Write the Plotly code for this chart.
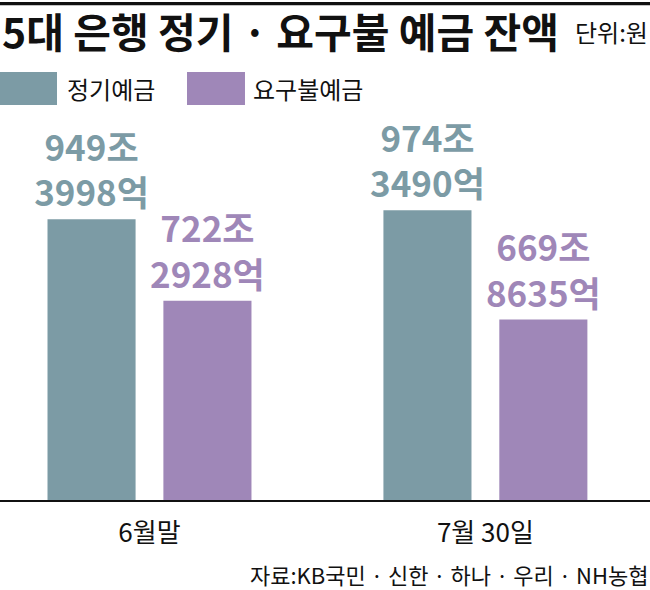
import plotly.graph_objects as go

# 단위: 억원
periods = ["6월말", "7월 30일"]
series_names = ["정기예금", "요구불예금"]
time_deposits = [9493998, 9743490]
demand_deposits = [7222928, 6698635]

colors = ["#7C9BA5", "#9F87B8"]
KR = "Noto Sans CJK KR"


def label(v):
    return f"{v // 10000}조<br>{v % 10000}억"


fig = go.Figure()
for name, vals, color in zip(series_names, [time_deposits, demand_deposits], colors):
    fig.add_trace(go.Bar(
        x=periods,
        y=vals,
        name=name,
        marker=dict(color=color, line=dict(width=0)),
        text=[label(v) for v in vals],
        textposition="outside",
        constraintext="none",
        textfont=dict(family=KR, size=35, color=color, weight="bold"),
        hoverinfo="skip",
    ))

# 제목, 단위, 범례, 출처
fig.add_annotation(text="5대 은행 정기 · 요구불 예금 잔액", xref="paper", yref="paper",
                   x=0, y=1.176, xanchor="left", yanchor="middle", showarrow=False,
                   font=dict(family=KR, size=41, color="#111", weight="bold"))
fig.add_annotation(text="단위:원", xref="paper", yref="paper",
                   x=1, y=1.172, xanchor="right", yanchor="middle", showarrow=False,
                   font=dict(family=KR, size=24, color="#111"))

legend_x = [(0, 0.0877, 0.1), (0.2877, 0.3769, 0.386)]
for (x0, x1, tx), name, color in zip(legend_x, series_names, colors):
    fig.add_shape(type="rect", xref="paper", yref="paper", x0=x0, x1=x1,
                  y0=0.9875, y1=1.07, fillcolor=color, line=dict(width=0))
    fig.add_annotation(text=name, xref="paper", yref="paper", x=tx, y=1.029,
                       xanchor="left", yanchor="middle", showarrow=False,
                       font=dict(family=KR, size=24, color="#111"))

# 상단 굵은 선
fig.add_shape(type="rect", xref="paper", yref="paper", x0=0, x1=1,
              y0=1.237, y1=1.245, fillcolor="#111", line=dict(width=0))

fig.add_annotation(text="자료:KB국민 · 신한 · 하나 · 우리 · NH농협", xref="paper", yref="paper",
                   x=1, y=-0.186, xanchor="right", yanchor="middle", showarrow=False,
                   font=dict(family=KR, size=22, color="#111"))

fig.update_layout(
    width=650, height=590,
    margin=dict(l=0, r=0, t=100, b=90),
    paper_bgcolor="white", plot_bgcolor="white",
    barmode="group", bargap=0.31, bargroupgap=0.24,
    showlegend=False,
    xaxis=dict(type="category", range=[-0.445, 1.49], showline=True,
               linecolor="#111", linewidth=1.5, ticks="", showgrid=False,
               ticklabelstandoff=9,
               tickfont=dict(family=KR, size=26, color="#111")),
    yaxis=dict(range=[1672000, 12817000], visible=False, showgrid=False),
)

fig.write_html("out.html", config={"displayModeBar": False},
               post_script="document.body.style.margin='0';document.body.style.overflow='hidden';")
